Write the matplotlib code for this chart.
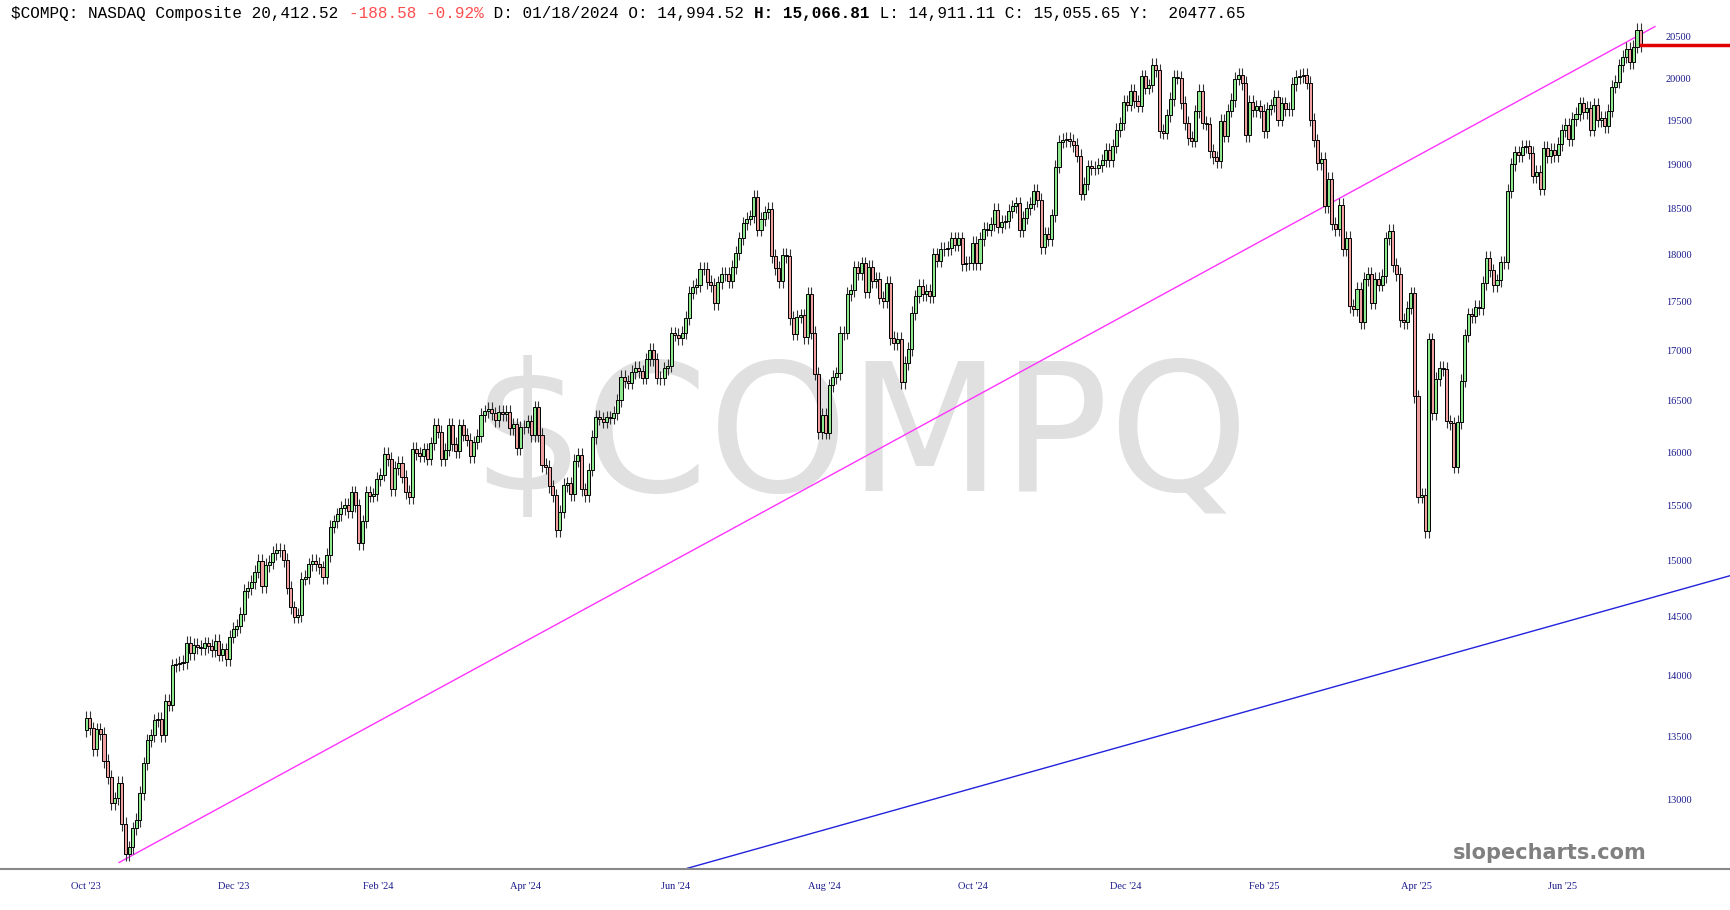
import numpy as np
import matplotlib
matplotlib.use('Agg')
import matplotlib.pyplot as plt
from matplotlib.ticker import NullLocator

# daily closes, 2023-10-11 .. 2025-07-07
closes = [
    13659, 13574, 13407, 13567, 13533, 13314, 13186, 12984, 13018, 13139, 12821, 12595, 12643, 12789, 12851,
    13061, 13294, 13478, 13518, 13640, 13650, 13521, 13798, 13768, 14094, 14103, 14114, 14125, 14285, 14200,
    14266, 14251, 14242, 14282, 14258, 14226,
    14305, 14185, 14230, 14147, 14340, 14404, 14432, 14533, 14734, 14762, 14814, 14905, 15003, 14778, 14964,
    14993, 15074, 15099, 15096, 15011,
    14765, 14592, 14511, 14524, 14843, 14858, 14970, 15004, 14973, 14944, 14856, 15056, 15311, 15361, 15426,
    15482, 15511, 15455, 15628, 15509, 15164,
    15361, 15629, 15598, 15609, 15756, 15794, 15990, 15943, 15656, 15859, 15906, 15776, 15631, 15581, 16041,
    15997, 15976, 16035, 15948, 16092,
    16275, 16207, 15940, 16032, 16274, 16085, 16019, 16266, 16178, 16129, 15973, 16103, 16166, 16369, 16402,
    16429, 16384, 16316, 16400, 16379,
    16397, 16240, 16277, 16050, 16249, 16253, 16307, 16171, 16443, 16175, 15885, 15866, 15684, 15602, 15282,
    15451, 15697, 15713, 15612, 15928, 15983, 15658,
    15605, 15841, 16156, 16349, 16333, 16302, 16346, 16341, 16389, 16512, 16743, 16699, 16686, 16795, 16833,
    16801, 16737, 16921, 17020, 16920, 16737, 16735,
    16829, 16858, 17187, 17173, 17133, 17193, 17344, 17608, 17667, 17689, 17862, 17862, 17721, 17689, 17497,
    17718, 17805, 17805, 17733,
    17879, 18029, 18188, 18352, 18403, 18429, 18647, 18283, 18398, 18472, 18509, 17996, 17871, 17726, 18007,
    17997, 17342, 17182, 17358, 17370, 17147, 17599,
    17194, 16776, 16200, 16366, 16195, 16660, 16745, 16780, 17188, 17192, 17594, 17631, 17877, 17817, 17918,
    17620, 17878, 17726, 17755, 17557, 17516, 17714,
    17136, 17084, 17128, 16690, 16884, 17026, 17396, 17570, 17683, 17593, 17628, 17573, 18014, 17948, 18075,
    18074, 18082, 18190, 18120, 18189,
    17910, 17926, 17918, 18138, 17924, 18183, 18292, 18282, 18343, 18503, 18315, 18367, 18374, 18490, 18540,
    18574, 18277, 18416, 18519, 18568, 18712, 18608, 18095,
    18240, 18180, 18439, 18983, 19269, 19287, 19299, 19281, 19231, 19108, 18680, 18792, 18988, 18967, 18972,
    19004, 19055, 19175, 19060, 19218,
    19404, 19481, 19735, 19701, 19860, 19737, 19687, 20034, 19902, 19927, 20173, 20109, 19393, 19373, 19573,
    19765, 20031, 20021, 19722, 19487, 19311,
    19280, 19622, 19865, 19490, 19479, 19162, 19088, 19044, 19511, 19339, 19630, 19757, 20009, 20054, 19955,
    19342, 19734, 19633, 19681, 19627,
    19391, 19654, 19692, 19791, 19523, 19714, 19643, 19650, 19946, 20027, 20041, 20056, 19962, 19524, 19286,
    19027, 19075, 18544, 18847,
    18350, 18285, 18553, 18070, 18196, 17468, 17436, 17648, 17303, 17754, 17808, 17504, 17751, 17692, 17784,
    18189, 18272, 17900, 17804, 17323, 17299,
    17450, 17601, 16551, 15588, 15604, 15268, 17125, 16387, 16724, 16832, 16824, 16307, 16287, 15871, 16300,
    16708, 17166, 17383, 17366, 17461, 17446,
    17711, 17978, 17844, 17690, 17738, 17929, 17929, 18708, 19010, 19146, 19112, 19211, 19215, 19143, 18873,
    18926, 18737, 19200, 19101, 19176, 19114,
    19243, 19399, 19460, 19299, 19530, 19591, 19715, 19615, 19662, 19407, 19701, 19521, 19546, 19447, 19631,
    19913, 19973, 20168, 20273, 20370,
    20202, 20394, 20601, 20412,
]
first_open = 13560

# trend lines (bar index, price)
pink_line = ([9.2, 437.0], [12530, 20640])
blue_line = ([166.6, 457.9], [12480, 14870])
last_level = 20412.52

date_labels = ["Oct '23", "Dec '23", "Feb '24", "Apr '24", "Jun '24", "Aug '24",
               "Oct '24", "Dec '24", "Feb '25", "Apr '25", "Jun '25"]
date_px = [78, 212, 343, 476, 612, 747, 882, 1020, 1146, 1284, 1416]
price_ticks = [13000, 13500, 14000, 14500, 15000, 15500, 16000, 16500, 17000,
               17500, 18000, 18500, 19000, 19500, 20000, 20500]

W = 1568.0
step = 3.254
x0 = 78.0

fig = plt.figure(figsize=(17.3, 9.1), dpi=100)
ax = fig.add_axes([0, 1 - 788 / 825.0, 1, 788 / 825.0])
ax.set_yscale('log')
ax.set_ylim(12480, 20970)
ax.set_xlim(-x0 / step, (W - x0) / step)
for s in ['top', 'left', 'right']:
    ax.spines[s].set_visible(False)
ax.spines['bottom'].set_color('#888888')
ax.spines['bottom'].set_linewidth(1.5)
ax.yaxis.set_major_locator(NullLocator())
ax.yaxis.set_minor_locator(NullLocator())

# watermark
ax.text(780 / W, 1 - 400 / 788.0, '$COMPQ', transform=ax.transAxes, ha='center', va='center',
        fontsize=128, color='#e0e0e0', family='DejaVu Sans', zorder=0)

c = np.array(closes, dtype=float)
o = np.concatenate([[first_open], c[:-1]])
hi = np.maximum(o, c) * 1.004
lo = np.minimum(o, c) * 0.996
idx = np.arange(len(c))
up = c >= o
ax.vlines(idx, lo, hi, color='#333333', lw=0.8, zorder=2)
ax.bar(idx[up], c[up] - o[up], bottom=o[up], width=0.85, color='#8ee88e',
       edgecolor='black', lw=0.7, zorder=3)
ax.bar(idx[~up], o[~up] - c[~up], bottom=c[~up], width=0.85, color='#f0a0a0',
       edgecolor='black', lw=0.7, zorder=3)

ax.plot(pink_line[0], pink_line[1], color='#ff33ff', lw=1, zorder=1)
ax.plot(blue_line[0], blue_line[1], color='#2222dd', lw=1, zorder=1)
ax.plot([len(c) - 1, (W - x0) / step], [last_level, last_level], color='#e00000', lw=2.5, zorder=4)

# y labels inside right
for p in price_ticks:
    ax.text(1510 / W, p, str(p), transform=ax.get_yaxis_transform(), fontsize=7.5,
            color='#1a1a8c', family='Liberation Serif', va='center', ha='left')

ax.set_xticks([(px - x0) / step for px in date_px])
ax.set_xticklabels(date_labels, fontsize=7.5, color='#1a1a8c', family='Liberation Serif')
ax.tick_params(axis='x', length=0, pad=9)

ax.text(1405 / W, 1 - 773 / 788.0, 'slopecharts.com', transform=ax.transAxes, ha='center',
        va='center', fontsize=15, fontweight='bold', color='#808080', family='DejaVu Sans', zorder=5)

# header line, monospace pieces
pieces = [("$COMPQ: NASDAQ Composite 20,412.52 ", 'black', 'normal'),
          ("-188.58 -0.92%", '#ff4d4d', 'normal'),
          (" D: 01/18/2024 O: 14,994.52 ", 'black', 'normal'),
          ("H: 15,066.81", 'black', 'bold'),
          (" L: 14,911.11 C: 15,055.65 Y:  20477.65", 'black', 'normal')]
cw = 8.75
n = 0
for txt, col, wt in pieces:
    fig.text((10 + n * cw) / W, 1 - 12 / 825.0, txt, fontsize=11.5, family='Liberation Mono',
             color=col, fontweight=wt, va='center', ha='left')
    n += len(txt)

fig.savefig('out.png', dpi=100)
